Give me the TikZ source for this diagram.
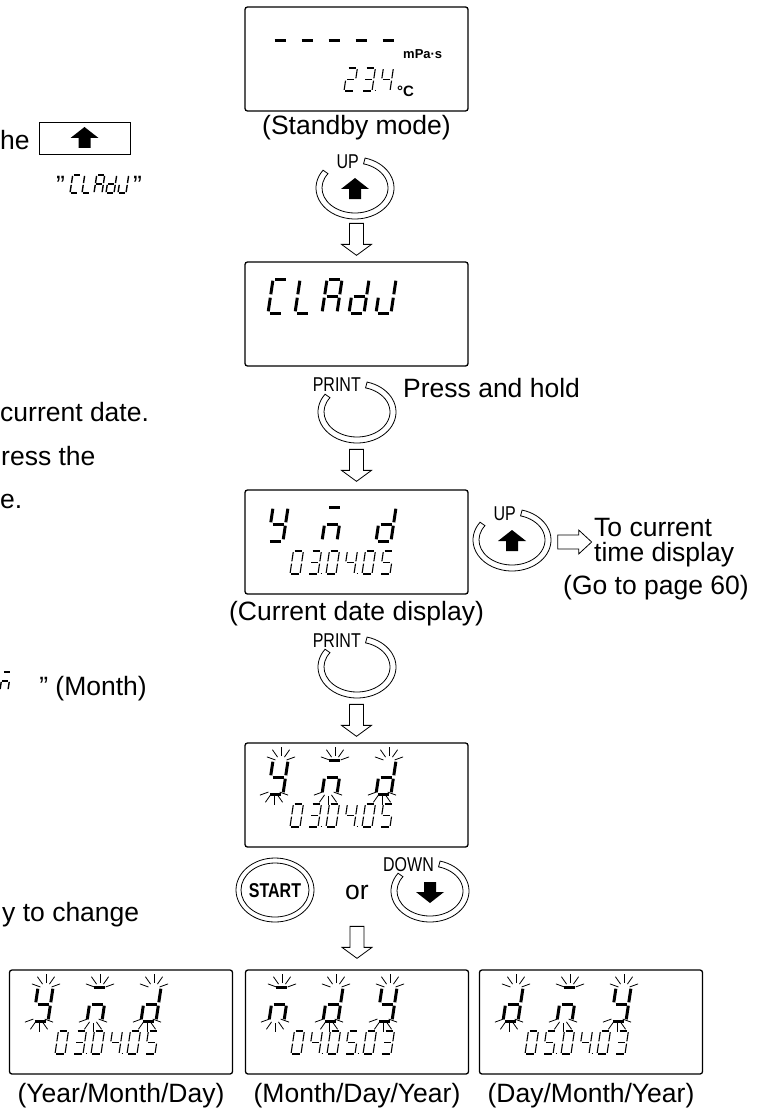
\documentclass[tikz,border=0pt]{standalone}
\usepackage{fontspec}
\setmainfont{Liberation Sans}
\newfontfamily\narrowfont[FakeStretch=0.8]{Liberation Sans}
\usetikzlibrary{positioning, calc}

% seven segment pieces, unit glyph 1 wide and 2 high, leaning right
\pgfkeyssetvalue{/segs/a}{(0.47,-2) -- (1.21,-2)}
\pgfkeyssetvalue{/segs/b}{(1.323,-1.9) -- (1.187,-1.1)}
\pgfkeyssetvalue{/segs/c}{(1.153,-0.9) -- (1.017,-0.1)}
\pgfkeyssetvalue{/segs/d}{(0.13,0) -- (0.87,0)}
\pgfkeyssetvalue{/segs/e}{(0.153,-0.9) -- (0.017,-0.1)}
\pgfkeyssetvalue{/segs/f}{(0.323,-1.9) -- (0.187,-1.1)}
\pgfkeyssetvalue{/segs/g}{(0.30,-1) -- (1.04,-1)}
\pgfkeyssetvalue{/segs/p}{(1.25,-0.05) -- (1.42,-0.05)}

\tikzset{
  lcd/.style={draw, line width=1.3pt, rounded corners=2.5pt, minimum width=223, minimum height=104, inner sep=0},
  txt/.style={font=\fontsize{26.5}{30}\selectfont, inner sep=0},
  keytxt/.style={font=\narrowfont\fontsize{20}{22}\selectfont, inner sep=0},
  bigseg/.style={xscale=15, yscale=17, line width=3pt},
  smallseg/.style={xscale=10, yscale=11.5, line width=1.1pt},
  tinyseg/.style={xscale=8, yscale=9, line width=1.4pt},
  ray/.style={line width=0.8pt},
  ringline/.style={line width=0.8pt},
  keyring/.pic={
    \begin{scope}[yscale=-1]
      \draw[ringline] (75:39 and 31) arc[start angle=75, end angle=-215, x radius=39, y radius=31]
        -- (-215:33 and 25) arc[start angle=-215, end angle=75, x radius=33, y radius=25] -- cycle;
    \end{scope}},
  fullring/.pic={
    \draw[ringline] (0,0) ellipse[x radius=39, y radius=32] (0,0) ellipse[x radius=34, y radius=27];},
  uparr/.pic={\fill (0,-11) -- (14,0) -- (6,0) -- (6,10) -- (-6,10) -- (-6,0) -- (-14,0) -- cycle;},
  downarr/.pic={\fill (0,11) -- (14,0) -- (6,0) -- (6,-10) -- (-6,-10) -- (-6,0) -- (-14,0) -- cycle;},
  hollowdown/.pic={\draw[line width=0.8pt, fill=white] (-7,0) -- (-7,21) -- (-15,21) -- (0,32) -- (15,21) -- (7,21) -- (7,0) -- cycle;},
  hollowright/.pic={\draw[line width=0.8pt, fill=white] (0,-7) -- (21,-7) -- (21,-12) -- (34,0) -- (21,12) -- (21,7) -- (0,7) -- cycle;}
}

% one glyph: lower left x, bottom y, size style, segment list
\newcommand{\segglyph}[4]{%
  \begin{scope}[shift={(#1,#2)}, #3]
    \foreach \s in #4 {\pgfkeysgetvalue{/segs/\s}\segpath \draw \segpath;}
  \end{scope}}
% big glyph: box left, box top, position, segments
\newcommand{\bigglyph}[4]{\segglyph{#1+23+27*#3}{#2+51}{bigseg}{#4}}
% small glyph: box left, box top, position, segments
\newcommand{\smallglyph}[4]{\segglyph{#1+45+18*#3}{#2+84}{smallseg}{#4}}
% blinking big glyph
\newcommand{\blinkglyph}[4]{%
  \bigglyph{#1}{#2}{#3}{#4}
  \foreach \a in {20,55,90,125,160} {
    \draw[ray] ({#1+36+27*#3+6*cos(\a)},{#2+19-6*sin(\a)}) -- ({#1+36+27*#3+15*cos(\a)},{#2+19-15*sin(\a)});
    \draw[ray] ({#1+29+27*#3+6*cos(\a)},{#2+47+6*sin(\a)}) -- ({#1+29+27*#3+15*cos(\a)},{#2+47+15*sin(\a)});
  }}
\newcommand{\datedigits}[3]{%
  \foreach \segs [count=\j from 0] in {#3} {\smallglyph{#1}{#2}{\j}{\segs}}}

\begin{document}
\begin{tikzpicture}[x=1pt, y=-1pt]
\useasboundingbox (0,0) rectangle (774,1110);

% left text, as far as the page shows it
\node[txt, anchor=base west] (he) at (0,150) {he};
\node[draw, line width=0.9pt, minimum width=91, minimum height=32, inner sep=0] (upkey) at (84.5,138) {};
\pic at (upkey.center) {uparr};
\node[txt, anchor=base west] (qopen) at (56,194) {"};
\foreach \segs [count=\k from 0] in {{a,d,e,f},{d,e,f},{a,b,c,e,f,g},{b,c,d,e,g},{b,c,d,e}}
  \segglyph{70+12*\k}{193}{tinyseg}{\segs};
\node[txt, anchor=base west] (qclose) at (133,194) {"};
\node[txt, anchor=base west] (curdate) at (0,421) {current date.};
\node[txt, anchor=base west] (pressthe) at (1,465) {ress the};
\node[txt, anchor=base west] (estop) at (0,508) {e.};
\segglyph{0}{690}{tinyseg}{{a,c,e,g}}
\node[txt, anchor=base east] (month) at (147,695) {"~(Month)};
\node[txt, anchor=base west] (tochange) at (2,921) {y to change};

% displays
\node[lcd] (standby) at (356.5,59) {};
\node[lcd] (cladj) at (356.5,314) {};
\node[lcd] (datedisp) at (356.5,542) {};
\node[lcd] (dateset) at (356.5,795) {};
\node[lcd] (ymd) at (121,1022) {};
\node[lcd] (mdy) at (357,1022) {};
\node[lcd] (dmy) at (591,1022) {};

% standby display
\foreach \k in {0,...,4} {\bigglyph{247}{7}{\k}{{g}}}
\node[font=\bfseries\fontsize{13}{14}\selectfont, anchor=base west, inner sep=0] (unitvisc) at (403,59) {mPa·s};
\smallglyph{245}{7}{3}{{a,b,d,e,g}}
\smallglyph{245}{7}{4}{{a,b,c,d,g,p}}
\smallglyph{245}{7}{5}{{b,c,f,g}}
\node[font=\bfseries\fontsize{15}{16}\selectfont, anchor=base west, inner sep=0] (unittemp) at (397,97) {°C};
\node[txt, anchor=base] (standbylbl) at (356.5,135) {(Standby mode)};

% clock adjust display
\foreach \segs [count=\k from 0] in {{a,d,e,f},{d,e,f},{a,b,c,e,f,g},{b,c,d,e,g},{b,c,d,e}}
  \bigglyph{245}{262}{\k}{\segs};

% current date display
\bigglyph{245}{490}{0}{{b,c,d,f,g}}
\bigglyph{245}{490}{2}{{a,c,e,g}}
\bigglyph{245}{490}{4}{{b,c,d,e,g}}
\datedigits{245}{490}{{a,b,c,d,e,f},{a,b,c,d,g,p},{a,b,c,d,e,f},{b,c,f,g,p},{a,b,c,d,e,f},{a,c,d,f,g}}
\node[txt, anchor=base] (datelbl) at (356.5,620) {(Current date display)};

% format selection
\blinkglyph{245}{743}{0}{{b,c,d,f,g}}
\blinkglyph{245}{743}{2}{{a,c,e,g}}
\blinkglyph{245}{743}{4}{{b,c,d,e,g}}
\datedigits{245}{743}{{a,b,c,d,e,f},{a,b,c,d,g,p},{a,b,c,d,e,f},{b,c,f,g,p},{a,b,c,d,e,f},{a,c,d,f,g}}

% three formats
\blinkglyph{10}{970}{0}{{b,c,d,f,g}}
\blinkglyph{10}{970}{2}{{a,c,e,g}}
\blinkglyph{10}{970}{4}{{b,c,d,e,g}}
\datedigits{10}{970}{{a,b,c,d,e,f},{a,b,c,d,g,p},{a,b,c,d,e,f},{b,c,f,g,p},{a,b,c,d,e,f},{a,c,d,f,g}}
\blinkglyph{246}{970}{0}{{a,c,e,g}}
\blinkglyph{246}{970}{2}{{b,c,d,e,g}}
\blinkglyph{246}{970}{4}{{b,c,d,f,g}}
\datedigits{246}{970}{{a,b,c,d,e,f},{b,c,f,g,p},{a,b,c,d,e,f},{a,c,d,f,g,p},{a,b,c,d,e,f},{a,b,c,d,g}}
\blinkglyph{480}{970}{0}{{b,c,d,e,g}}
\blinkglyph{480}{970}{2}{{a,c,e,g}}
\blinkglyph{480}{970}{4}{{b,c,d,f,g}}
\datedigits{480}{970}{{a,b,c,d,e,f},{a,c,d,f,g,p},{a,b,c,d,e,f},{b,c,f,g,p},{a,b,c,d,e,f},{a,b,c,d,g}}
\node[txt, anchor=base] (ymdlbl) at (121,1102) {(Year/Month/Day)};
\node[txt, anchor=base] (mdylbl) at (357,1102) {(Month/Day/Year)};
\node[txt, anchor=base] (dmylbl) at (591,1102) {(Day/Month/Year)};

% keys
\pic at (355,188) {keyring};
\pic at (355,189) {uparr};
\node[keytxt, anchor=base east] (upone) at (359,168) {UP};
\pic at (357,412) {keyring};
\node[keytxt, anchor=base east] (printone) at (361,391) {PRINT};
\node[txt, anchor=base west] (presshold) at (403,397) {Press and hold};
\pic at (512,540) {keyring};
\pic at (512,541) {uparr};
\node[keytxt, anchor=base east] (uptwo) at (516,520) {UP};
\pic at (357,667) {keyring};
\node[keytxt, anchor=base east] (printtwo) at (361,647) {PRINT};
\pic at (275,890) {fullring};
\node[font=\narrowfont\bfseries\fontsize{20}{22}\selectfont, inner sep=0] (startkey) at (275,891) {START};
\node[txt, anchor=base] (orword) at (357,899) {or};
\pic at (430,891) {keyring};
\pic at (430,892) {downarr};
\node[keytxt, anchor=base east] (downkey) at (434,871) {DOWN};

% flow arrows
\pic at ($(cladj.north)+(0,-38)$) {hollowdown};
\pic at ($(datedisp.north)+(0,-40)$) {hollowdown};
\pic at ($(dateset.north)+(0,-38)$) {hollowdown};
\pic at ($(mdy.north)+(0,-43)$) {hollowdown};
\pic at ($(datedisp.east)+(89,0)$) {hollowright};
\node[txt, anchor=base west] (tocur) at (594,536) {To current};
\node[txt, anchor=base west] (timedisp) at ($(tocur.base west)+(0,25)$) {time display};
\node[txt, anchor=base west] (gopage) at (563,594) {(Go to page 60)};
\end{tikzpicture}
\end{document}
